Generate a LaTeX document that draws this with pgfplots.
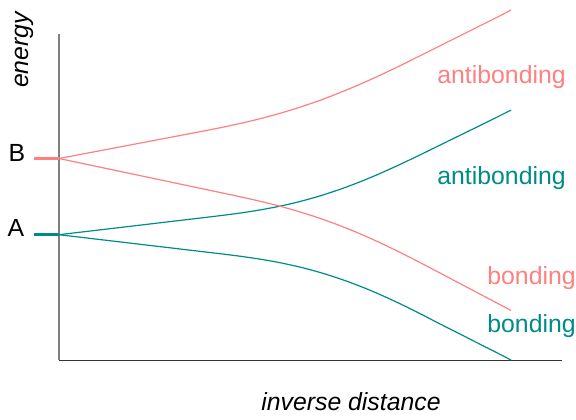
\documentclass[border=0pt]{standalone}
\usepackage{pgfplots}
\pgfplotsset{compat=1.18}
\usepackage{fontspec}
\setmainfont{Liberation Sans}
\definecolor{cred}{HTML}{FF8080}
\definecolor{cteal}{HTML}{008B8B}
\newcommand{\fs}{\fontsize{12.4}{14}\selectfont}
\begin{document}
\begin{tikzpicture}
\begin{axis}[
  scale only axis, width=251.5pt, height=163pt,
  xmin=59, xmax=562, ymin=0, ymax=326,
  axis lines*=left, xtick=\empty, ytick=\empty,
  x axis line style={draw=black!80, line width=0.5pt},
  y axis line style={draw=black!50, line width=1pt},
  clip=false,
]
\path (axis cs:0,-59) rectangle (axis cs:576,360);
% stubs
\addplot[cred, line width=1.6pt, forget plot] coordinates {(34,201.5) (59,201.5)};
\addplot[cteal, line width=1.6pt, forget plot] coordinates {(34,125.3) (59,125.3)};
% red antibonding
\addplot[cred, line width=0.6pt, smooth, tension=0.5] coordinates {
 (59,201.5) (79,205.3) (99,209.1) (119,212.9) (139,216.7) (159,220.5) (179,224.3)
 (199,228.1) (219,232.0) (239,236.3) (259,241.0) (279,246.4) (299,252.5) (319,259.3)
 (339,267.0) (359,275.3) (379,284.3) (399,293.8) (419,303.7) (439,313.7) (459,323.7)
 (479,333.7) (499,343.7) (511,350)};
% teal antibonding
\addplot[cteal, line width=0.6pt, smooth, tension=0.5] coordinates {
 (59,125.3) (79,127.66) (99,130.02) (119,132.38) (139,134.74) (159,137.1) (179,139.46)
 (199,141.82) (219,144.2) (239,146.8) (259,149.9) (279,153.65) (299,158.27) (319,163.82)
 (339,170.34) (359,177.79) (379,186.09) (399,195.11) (419,204.63) (439,214.41)
 (459,224.21) (479,234.01) (499,243.81) (511,249.9)};
% red bonding
\addplot[cred, line width=0.6pt, smooth, tension=0.5] coordinates {
 (59,201.5) (79,197.28) (99,193.06) (119,188.84) (139,184.62) (159,180.4) (179,176.18)
 (199,171.96) (219,167.74) (239,163.49) (259,159.0) (279,154.03) (299,148.4) (319,142.0)
 (339,134.75) (359,126.64) (379,117.74) (399,108.13) (419,97.98) (439,87.52)
 (459,76.98) (479,66.44) (499,55.9) (511,49.6)};
% teal bonding
\addplot[cteal, line width=0.6pt, smooth, tension=0.5] coordinates {
 (59,125.3) (79,122.94) (99,120.58) (119,118.22) (139,115.86) (159,113.5) (179,111.14)
 (199,108.78) (219,106.42) (239,103.93) (259,101.03) (279,97.5) (299,93.14) (319,87.84)
 (339,81.53) (359,74.21) (379,65.92) (399,56.76) (419,46.91) (439,36.58)
 (459,26.5) (479,16.3) (499,6.2) (511,0)};
% labels
\node[rotate=90, anchor=base, font=\fs\itshape] at (axis cs:28,310) {energy};
\node[anchor=base, font=\fs\itshape] at (axis cs:351,-50) {inverse distance};
\node[anchor=base, font=\fs] at (axis cs:17,199) {B};
\node[anchor=base, font=\fs] at (axis cs:16,124) {A};
\node[anchor=base west, inner sep=0pt, text=cred, font=\fs] at (axis cs:437,277) {antibonding};
\node[anchor=base west, inner sep=0pt, text=cteal, font=\fs] at (axis cs:437,176) {antibonding};
\node[anchor=base west, inner sep=0pt, text=cred, font=\fs] at (axis cs:487,76) {bonding};
\node[anchor=base west, inner sep=0pt, text=cteal, font=\fs] at (axis cs:487,28) {bonding};
\end{axis}
\end{tikzpicture}
\end{document}
